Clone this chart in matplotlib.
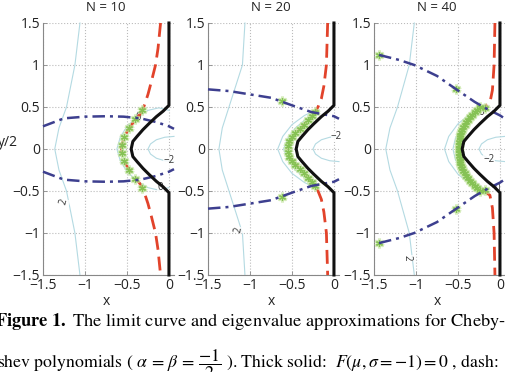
import matplotlib.pyplot as plt

plt.rcParams['font.family'] = ['Open Sans', 'DejaVu Sans']
plt.rcParams['mathtext.fontset'] = 'stix'

titles = ['N = 10', 'N = 20', 'N = 40']
x_ticks = [-1.5, -1, -0.5, 0]
y_ticks = [-1.5, -1, -0.5, 0, 0.5, 1, 1.5]

# limit curve F(mu, sigma=-1) = 0 (thick solid), same in every panel
limit_x = [0.0, 0.0, -0.07, -0.15, -0.24, -0.31, -0.38, -0.43, -0.45, -0.43, -0.38, -0.31, -0.24, -0.15, -0.07, 0.0, 0.0]
limit_y = [1.5, 0.52, 0.45, 0.385, 0.30, 0.23, 0.15, 0.09, 0.0, -0.09, -0.15, -0.23, -0.30, -0.385, -0.45, -0.52, -1.5]

# dashed curves
red10_x = [-0.10, -0.13, -0.16, -0.21, -0.25, -0.30, -0.34, -0.43, -0.51, -0.555, -0.565, -0.555, -0.51, -0.43, -0.34, -0.30, -0.25, -0.21, -0.16, -0.13, -0.10]
red10_y = [1.5, 1.2, 1.0, 0.8, 0.65, 0.5, 0.42, 0.31, 0.19, 0.07, 0.0, -0.07, -0.19, -0.31, -0.42, -0.5, -0.65, -0.8, -1.0, -1.2, -1.5]
red20_x = [-0.075, -0.09, -0.12, -0.15, -0.19, -0.23, -0.30, -0.44, -0.52, -0.55, -0.52, -0.44, -0.30, -0.23, -0.19, -0.15, -0.12, -0.09, -0.075]
red20_y = [1.5, 1.0, 0.75, 0.6, 0.5, 0.43, 0.345, 0.2, 0.1, 0.0, -0.1, -0.2, -0.345, -0.43, -0.5, -0.6, -0.75, -1.0, -1.5]
red40_x = [-0.06, -0.07, -0.09, -0.12, -0.22, -0.34, -0.42, -0.47, -0.49, -0.47, -0.42, -0.34, -0.22, -0.12, -0.09, -0.07, -0.06]
red40_y = [1.5, 1.0, 0.7, 0.55, 0.48, 0.40, 0.29, 0.15, 0.0, -0.15, -0.29, -0.40, -0.48, -0.55, -0.7, -1.0, -1.5]

# dash-dot curves (upper / lower branch)
dd10_x = [-1.5, -1.25, -1.0, -0.75, -0.54, -0.34, -0.15, 0.0, 0.06]
dd10_up = [0.27, 0.365, 0.385, 0.39, 0.385, 0.365, 0.32, 0.27, 0.24]
dd10_lo = [-0.27, -0.365, -0.385, -0.39, -0.385, -0.365, -0.32, -0.27, -0.24]
dd20_x = [-1.5, -1.25, -1.0, -0.75, -0.5, -0.27, 0.0, 0.06]
dd20_up = [0.71, 0.69, 0.65, 0.61, 0.52, 0.44, 0.39, 0.36]
dd20_lo = [-0.71, -0.69, -0.65, -0.61, -0.52, -0.44, -0.39, -0.36]
dd40_x = [-1.44, -1.2, -1.02, -0.75, -0.52, -0.3, -0.16, 0.0, 0.06]
dd40_up = [1.12, 1.06, 1.0, 0.87, 0.71, 0.56, 0.48, 0.40, 0.36]
dd40_lo = [-1.12, -1.06, -1.0, -0.87, -0.71, -0.56, -0.48, -0.40, -0.36]

# eigenvalues
eig10_x = [-0.32, -0.40, -0.48, -0.53, -0.56, -0.56, -0.53, -0.48, -0.40, -0.32]
eig10_y = [0.46, 0.36, 0.25, 0.14, 0.045, -0.045, -0.14, -0.25, -0.36, -0.46]
eig20_x = [-0.22, -0.26, -0.31, -0.36, -0.41, -0.46, -0.50, -0.53, -0.55, -0.55, -0.53, -0.50, -0.46, -0.41, -0.36, -0.31, -0.26, -0.22, -0.62, -0.62]
eig20_y = [0.44, 0.39, 0.34, 0.29, 0.24, 0.19, 0.14, 0.09, 0.03, -0.03, -0.09, -0.14, -0.19, -0.24, -0.29, -0.34, -0.39, -0.44, 0.575, -0.575]
eig40_x = [-0.24, -0.27, -0.30, -0.33, -0.355, -0.38, -0.40, -0.42, -0.435, -0.45, -0.46, -0.47, -0.475, -0.48, -0.485, -0.49, -0.49,
           -0.49, -0.49, -0.485, -0.48, -0.475, -0.47, -0.46, -0.45, -0.435, -0.42, -0.40, -0.38, -0.355, -0.33, -0.30, -0.27, -0.24,
           -1.44, -0.52, -0.18, -1.44, -0.52, -0.18]
eig40_y = [0.50, 0.47, 0.44, 0.41, 0.38, 0.35, 0.32, 0.29, 0.26, 0.23, 0.20, 0.17, 0.14, 0.11, 0.08, 0.05, 0.015,
           -0.015, -0.05, -0.08, -0.11, -0.14, -0.17, -0.20, -0.23, -0.26, -0.29, -0.32, -0.35, -0.38, -0.41, -0.44, -0.47, -0.50,
           1.12, 0.71, 0.49, -1.12, -0.71, -0.49]

# thin contour lines (levels 2, 0, -2)
c2_y = [1.5, 1.0, 0.5, 0.25, 0.0, -0.25, -0.5, -1.0, -1.5]
c2_10_x = [-1.06, -1.12, -1.22, -1.31, -1.36, -1.31, -1.22, -1.12, -1.06]
c2_20_x = [-1.06, -1.09, -1.25, -1.33, -1.37, -1.33, -1.25, -1.09, -1.06]
c2_40_x = [-1.02, -1.08, -1.22, -1.31, -1.36, -1.31, -1.22, -1.08, -1.02]
c0_10_x = [0.0, -0.12, -0.25, -0.38, -0.50, -0.58, -0.62, -0.58, -0.50, -0.38, -0.25, -0.12, 0.0]
c0_10_y = [0.46, 0.49, 0.46, 0.38, 0.27, 0.14, 0.0, -0.14, -0.27, -0.38, -0.46, -0.49, -0.46]
c0_20_x = [-0.2, -0.35, -0.50, -0.61, -0.67, -0.61, -0.50, -0.35, -0.2]
c0_20_y = [0.47, 0.40, 0.29, 0.15, 0.0, -0.15, -0.29, -0.40, -0.47]
c0b_20_x = [-0.2, -0.33, -0.46, -0.55, -0.60, -0.55, -0.46, -0.33, -0.2]
c0b_20_y = [0.44, 0.36, 0.25, 0.13, 0.0, -0.13, -0.25, -0.36, -0.44]
c0_40_x = [-0.18, -0.35, -0.50, -0.61, -0.66, -0.61, -0.50, -0.35, -0.18]
c0_40_y = [0.50, 0.42, 0.30, 0.15, 0.0, -0.15, -0.30, -0.42, -0.50]
c0b_40_x = [-0.18, -0.32, -0.45, -0.53, -0.56, -0.53, -0.45, -0.32, -0.18]
c0b_40_y = [0.48, 0.38, 0.26, 0.13, 0.0, -0.13, -0.26, -0.38, -0.48]
cm2_x = [0.06, -0.05, -0.15, -0.22, -0.25, -0.22, -0.15, -0.05, 0.06]
cm2_y = [0.15, 0.14, 0.11, 0.06, 0.0, -0.06, -0.11, -0.14, -0.15]

reds = [(red10_x, red10_y), (red20_x, red20_y), (red40_x, red40_y)]
dds = [(dd10_x, dd10_up, dd10_lo), (dd20_x, dd20_up, dd20_lo), (dd40_x, dd40_up, dd40_lo)]
eigs = [(eig10_x, eig10_y), (eig20_x, eig20_y), (eig40_x, eig40_y)]
c2s = [c2_10_x, c2_20_x, c2_40_x]
c0s = [[(c0_10_x, c0_10_y)], [(c0_20_x, c0_20_y), (c0b_20_x, c0b_20_y)], [(c0_40_x, c0_40_y), (c0b_40_x, c0b_40_y)]]
clabels = [
    [('2', -1.25, -0.63, 75), ('0', -0.36, 0.37, 0), ('0', -0.10, -0.46, 0), ('\u22122', 0.0, -0.14, 0)],
    [('2', -1.14, -0.96, 80), ('\u22122', 0.03, 0.15, 0)],
    [('2', -1.11, -1.30, -90), ('0', -0.22, 0.44, 0), ('0', -0.03, -0.47, 0), ('\u22122', -0.13, -0.12, 0)],
]

fig = plt.figure(figsize=(5.05, 3.72), dpi=100)
lefts = [43 / 505, 208 / 505, 374 / 505]
cont_col = '#b4dae2'

for i in range(3):
    ax = fig.add_axes([lefts[i], 97 / 372, 131 / 505, 252 / 372])
    ax.set_xlim(-1.5, 0.06)
    ax.set_ylim(-1.5, 1.5)
    ax.set_xticks(x_ticks)
    ax.set_yticks(y_ticks)
    ax.set_xticklabels(['\u22121.5', '\u22121', '\u22120.5', '0'])
    ax.set_yticklabels(['\u22121.5', '\u22121', '\u22120.5', '0', '0.5', '1', '1.5'])
    ax.tick_params(direction='in', length=3, width=0.6, color='#888888', labelsize=10,
                   labelcolor='#222222', pad=2)
    for s in ['top', 'right']:
        ax.spines[s].set_visible(False)
    for s in ['left', 'bottom']:
        ax.spines[s].set_color('#888888')
        ax.spines[s].set_linewidth(0.8)
    ax.grid(True, linestyle=':', color='#bbbbbb', linewidth=0.8)
    ax.set_axisbelow(True)

    ax.plot(c2s[i], c2_y, color=cont_col, lw=0.8, clip_on=False)
    for cx, cy in c0s[i]:
        ax.plot(cx, cy, color=cont_col, lw=0.8, clip_on=False)
    ax.plot(cm2_x, cm2_y, color=cont_col, lw=0.8, clip_on=False)
    for txt, lx, ly, rot in clabels[i]:
        ax.text(lx, ly, txt, fontsize=7, color='#333333', rotation=rot, ha='center', va='center',
                bbox=dict(facecolor='white', edgecolor='none', pad=0.2, alpha=0.8), clip_on=False)

    rx, ry = reds[i]
    ax.plot(rx, ry, color='#e2432b', lw=2.0, dashes=(5, 2.5), clip_on=False, zorder=3)

    ex, ey = eigs[i]
    ax.plot(ex, ey, linestyle='none', marker=(6, 2, 0), markersize=7, mew=2.2,
            color='#c4e4a0', alpha=0.7, clip_on=False, zorder=4)
    ax.plot(ex, ey, linestyle='none', marker=(6, 2, 0), markersize=5, mew=0.9,
            color='#86c255', clip_on=False, zorder=4)

    dx, dup, dlo = dds[i]
    ax.plot(dx, dup, color='#3d3f8f', lw=1.8, dashes=(5, 2, 1.2, 2), clip_on=False, zorder=4)
    ax.plot(dx, dlo, color='#3d3f8f', lw=1.8, dashes=(5, 2, 1.2, 2), clip_on=False, zorder=4)
    ax.plot(limit_x, limit_y, color='#111111', lw=2.2, clip_on=False, zorder=5)

    tr = ax.get_xaxis_transform()
    ax.text(-0.75, 1.06, titles[i], transform=tr, ha='center', va='center', fontsize=9.5, color='#222222')
    ax.text(-0.75, -0.107, 'x', transform=tr, ha='center', va='center', fontsize=10, color='#222222')

fig.text(18 / 505, 1 - 143 / 372, 'y/2', ha='right', va='center', fontsize=10, color='#222222')

cap_font = 'STIXGeneral'
fig.text(-5 / 505, 1 - 322 / 372,
         r'$\mathbf{Figure\ 1.}$ The limit curve and eigenvalue approximations for Cheby-',
         family=cap_font, fontsize=13.2, ha='left', va='center')
fig.text(-3 / 505, 1 - 358 / 372,
         r'shev polynomials ( $\alpha\,=\,\beta\,=\,\dfrac{-1}{2}$ ). Thick solid:  $F\left(\mu,\sigma=-1\right)=0$ , dash:',
         family=cap_font, fontsize=12.8, ha='left', va='center_baseline')

fig.savefig('out.png', dpi=100)
